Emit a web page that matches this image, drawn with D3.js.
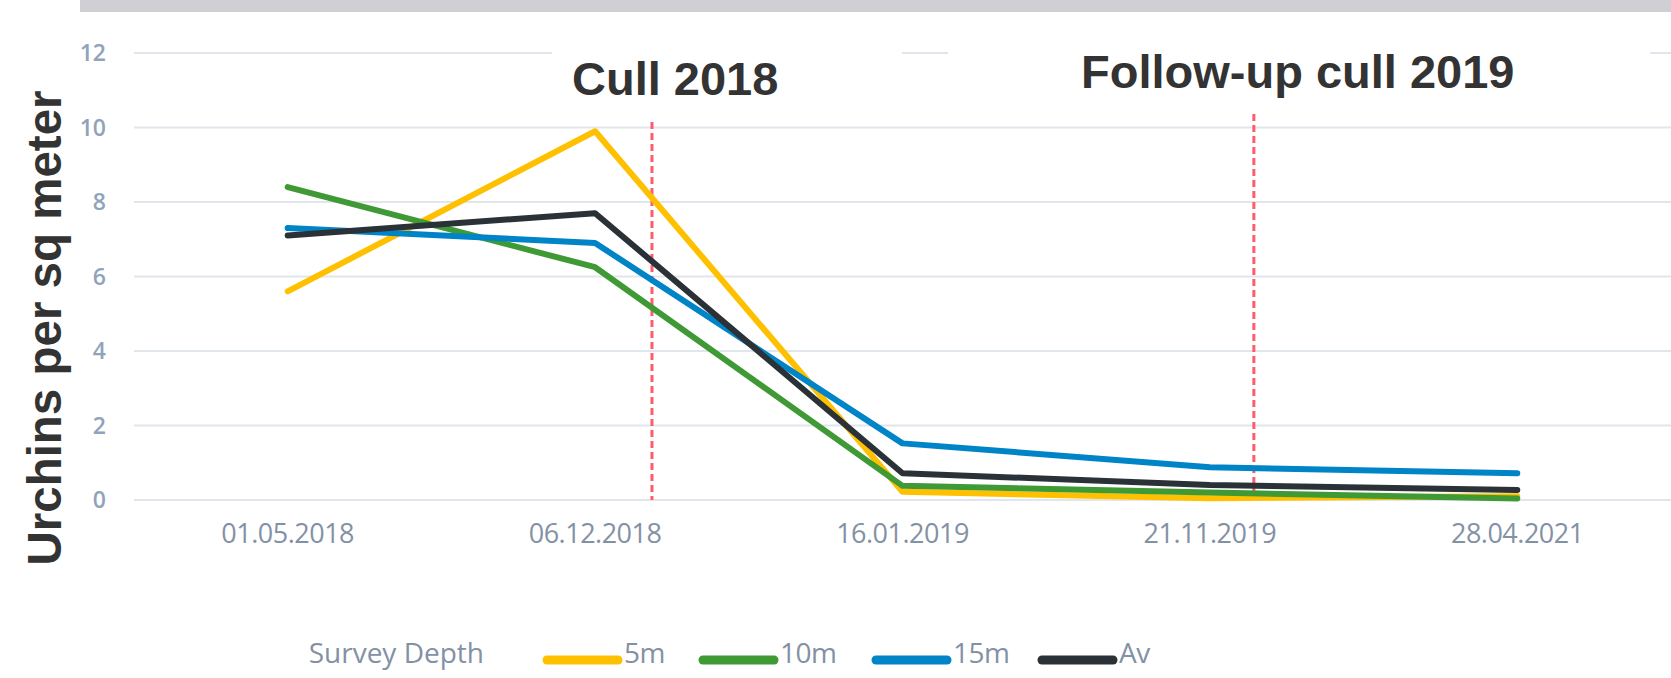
<!DOCTYPE html>
<html>
<head>
<meta charset="utf-8">
<script src="https://cdn.jsdelivr.net/npm/d3@7"></script>
<style>
  body { margin: 0; background: #fff; }
  svg { display: block; }
</style>
</head>
<body>
<svg id="chart" width="1671" height="678"></svg>
<script>
// survey dates (categories)
var dates = ['01.05.2018', '06.12.2018', '16.01.2019', '21.11.2019', '28.04.2021'];

// urchins per sq meter, by survey depth
var depth5m  = [5.6, 9.9, 0.22, 0.05, 0.1];
var depth10m = [8.4, 6.25, 0.38, 0.2, 0.04];
var depth15m = [7.3, 6.9, 1.52, 0.88, 0.72];
var depthAv  = [7.1, 7.7, 0.72, 0.4, 0.27];

var seriesNames = ['5m', '10m', '15m', 'Av'];
var seriesColors = ['#ffc000', '#3f9a36', '#0084c8', '#2a3238'];
var yTicks = [0, 2, 4, 6, 8, 10, 12];

// annotations: label + position (in category steps from first date)
var cullLabels = ['Cull 2018', 'Follow-up cull 2019'];
var cullPos = [1.185, 3.143];

var svg = d3.select('#chart');
var W = 1671;

var x = d3.scaleBand().domain(dates).range([134, W]).padding(0);
var y = d3.scaleLinear().domain([0, 12]).range([500, 53]);
var cx = function (d) { return x(d) + x.bandwidth() / 2; };
var step = x.step();

// top grey strip
svg.append('rect')
  .attr('x', 80).attr('y', 0)
  .attr('width', W - 80).attr('height', 12)
  .attr('fill', '#cfcfd4');

// gridlines
svg.append('g').selectAll('line')
  .data(yTicks)
  .enter().append('line')
  .attr('x1', 134).attr('x2', W)
  .attr('y1', function (d) { return y(d); })
  .attr('y2', function (d) { return y(d); })
  .attr('stroke', '#e1e6ec')
  .attr('stroke-width', 2);

// y tick labels (left edge is cut off in the original)
svg.append('clipPath').attr('id', 'yclip')
  .append('rect').attr('x', 81).attr('y', 0).attr('width', 100).attr('height', 560);

svg.append('g')
  .attr('clip-path', 'url(#yclip)')
  .selectAll('text')
  .data(yTicks)
  .enter().append('text')
  .attr('x', 106)
  .attr('y', function (d) { return y(d) + 8; })
  .attr('text-anchor', 'end')
  .attr('font-family', 'Open Sans, sans-serif')
  .attr('font-size', 23)
  .attr('font-weight', 600)
  .attr('fill', '#90a3bb')
  .text(function (d) { return d; });

// x tick labels
svg.append('g').selectAll('text')
  .data(dates)
  .enter().append('text')
  .attr('x', cx)
  .attr('y', 543)
  .attr('text-anchor', 'middle')
  .attr('font-family', 'Open Sans, sans-serif')
  .attr('font-size', 27)
  .attr('letter-spacing', -0.5)
  .attr('fill', '#8391a5')
  .text(function (d) { return d; });

// y axis title
svg.append('text')
  .attr('transform', 'translate(61,328) rotate(-90)')
  .attr('text-anchor', 'middle')
  .attr('font-family', 'Liberation Sans, Arial, sans-serif')
  .attr('font-weight', 'bold')
  .attr('font-size', 47.5)
  .attr('fill', '#333333')
  .text('Urchins per sq meter');

// annotation boxes (white, hide top gridline), labels and dashed lines
var boxes = [[552, 902], [948, 1650]];
var labelX = [572, 1081];
var labelY = [95, 88];
var lineTop = [122, 114];

cullLabels.forEach(function (lab, i) {
  var lx = cx(dates[0]) + cullPos[i] * step;
  svg.append('rect')
    .attr('x', boxes[i][0]).attr('y', 40)
    .attr('width', boxes[i][1] - boxes[i][0]).attr('height', 30)
    .attr('fill', '#fff');
  svg.append('text')
    .attr('x', labelX[i]).attr('y', labelY[i])
    .attr('font-family', 'Liberation Sans, Arial, sans-serif')
    .attr('font-weight', 'bold')
    .attr('font-size', 47)
    .attr('fill', '#333333')
    .text(lab);
  svg.append('line')
    .attr('x1', lx).attr('x2', lx)
    .attr('y1', lineTop[i]).attr('y2', y(0))
    .attr('stroke', '#ff5b6b')
    .attr('stroke-width', 3)
    .attr('stroke-dasharray', '7,4');
});

// series lines
var allSeries = [depth5m, depth10m, depth15m, depthAv];
var line = d3.line()
  .x(function (d, i) { return cx(dates[i]); })
  .y(function (d) { return y(d); });

svg.append('g').selectAll('path')
  .data(allSeries)
  .enter().append('path')
  .attr('d', line)
  .attr('fill', 'none')
  .attr('stroke', function (d, i) { return seriesColors[i]; })
  .attr('stroke-width', 6)
  .attr('stroke-linejoin', 'round')
  .attr('stroke-linecap', 'round');

// legend
var legend = svg.append('g');
legend.append('text')
  .attr('x', 484).attr('y', 663)
  .attr('text-anchor', 'end')
  .attr('font-family', 'Open Sans, sans-serif')
  .attr('font-size', 28)
  .attr('fill', '#8391a5')
  .text('Survey Depth');

var legendX = [543, 699, 872, 1038];
seriesNames.forEach(function (name, i) {
  legend.append('line')
    .attr('x1', legendX[i] + 4).attr('x2', legendX[i] + 75)
    .attr('y1', 660).attr('y2', 660)
    .attr('stroke', seriesColors[i])
    .attr('stroke-width', 9)
    .attr('stroke-linecap', 'round');
  legend.append('text')
    .attr('x', legendX[i] + 81).attr('y', 663)
    .attr('font-family', 'Open Sans, sans-serif')
    .attr('font-size', 28)
    .attr('letter-spacing', -0.5)
    .attr('fill', '#8391a5')
    .text(name);
});
</script>
</body>
</html>
